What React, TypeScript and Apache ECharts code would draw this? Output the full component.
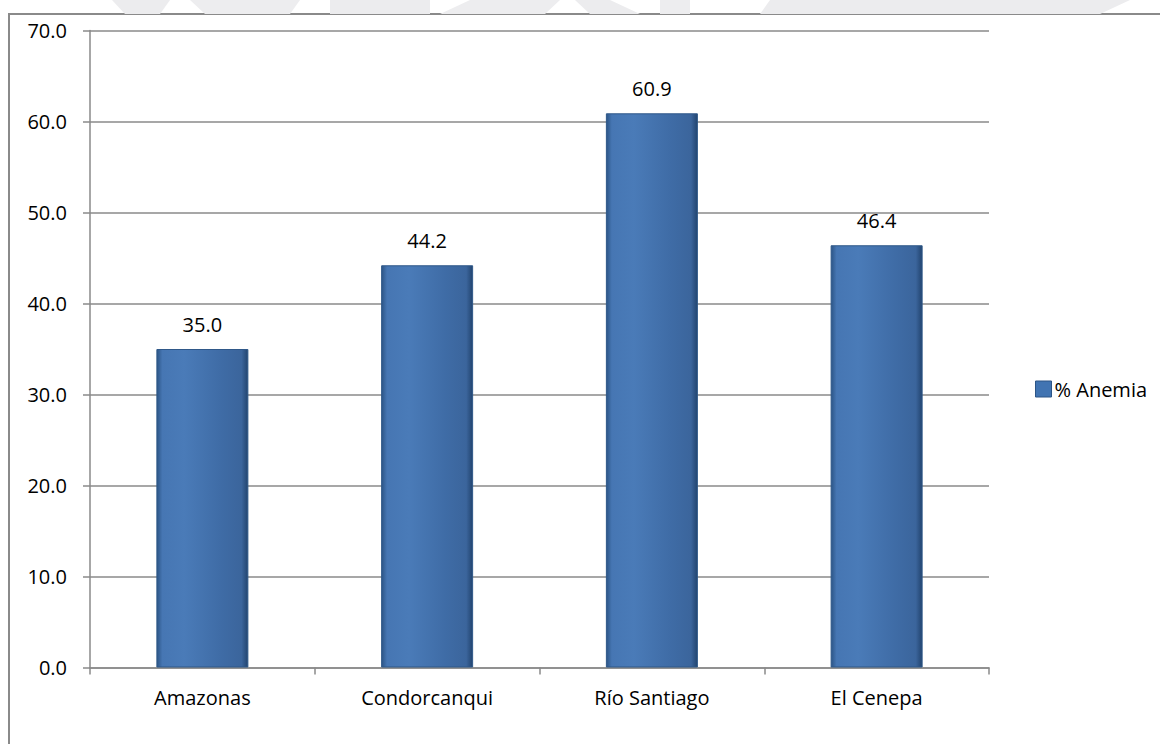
import React, { useEffect, useRef } from "react";
import * as echarts from "echarts";

// Anemia share by district
const categories = ["Amazonas", "Condorcanqui", "Río Santiago", "El Cenepa"];
const anemiaValues = [35.0, 44.2, 60.9, 46.4];
const seriesName = "% Anemia";
const yTicks = [0, 10, 20, 30, 40, 50, 60, 70];

const FONT = "'Open Sans', 'Noto Sans', sans-serif";
const AXIS_GRAY = "#8a8a8a";

const barGradient = new echarts.graphic.LinearGradient(0, 0, 1, 0, [
  { offset: 0, color: "#2c5586" },
  { offset: 0.06, color: "#4676b3" },
  { offset: 0.3, color: "#4a7bb8" },
  { offset: 0.7, color: "#3f6ca6" },
  { offset: 0.93, color: "#3b659c" },
  { offset: 1, color: "#22446f" },
]);

export default function App() {
  const ref = useRef<HTMLDivElement>(null);

  useEffect(() => {
    document.body.style.margin = "0";
    if (!ref.current) return;
    const chart = echarts.init(ref.current, null, { renderer: "svg" });
    chart.setOption({
      animation: false,
      backgroundColor: "#ffffff",
      textStyle: { fontFamily: FONT },
      graphic: [
        // faint watermark strip above the chart frame
        {
          type: "group",
          silent: true,
          z: -10,
          children: [
            { type: "polygon", shape: { points: [[112, 0], [170, 0], [160, 14], [125, 14]] }, style: { fill: "#ececee" } },
            { type: "polygon", shape: { points: [[190, 0], [300, 0], [290, 14], [205, 14]] }, style: { fill: "#ededef" } },
            { type: "polygon", shape: { points: [[330, 0], [430, 0], [430, 14], [330, 14]] }, style: { fill: "#ececee" } },
            { type: "polygon", shape: { points: [[470, 0], [560, 0], [545, 14], [440, 14]] }, style: { fill: "#ededef" } },
            { type: "polygon", shape: { points: [[575, 0], [610, 0], [640, 14], [590, 14]] }, style: { fill: "#ececee" } },
            { type: "polygon", shape: { points: [[660, 0], [690, 0], [690, 14], [660, 14]] }, style: { fill: "#ededef" } },
            { type: "polygon", shape: { points: [[770, 0], [1130, 0], [1100, 14], [760, 14]] }, style: { fill: "#ececee" } },
          ],
        },
        // chart frame
        {
          type: "rect",
          silent: true,
          z: -5,
          shape: { x: 9, y: 14, width: 1200, height: 800 },
          style: { fill: "#ffffff", stroke: AXIS_GRAY, lineWidth: 2 },
        },
      ],
      legend: {
        data: [seriesName],
        left: 1030,
        top: 374,
        orient: "vertical",
        itemWidth: 16,
        itemHeight: 16,
        itemGap: 4,
        icon: "rect",
        textStyle: { fontFamily: FONT, fontSize: 20, color: "#000", padding: [0, 0, 0, -2] },
        itemStyle: { color: "#4174b2", borderColor: "#2c5586", borderWidth: 1 },
      },
      grid: {
        left: 90,
        top: 30.5,
        right: 171,
        bottom: 76.5,
        containLabel: false,
      },
      xAxis: {
        type: "category",
        data: categories,
        axisLine: { show: true, lineStyle: { color: AXIS_GRAY, width: 1.5 } },
        axisTick: { show: true, length: 7, alignWithLabel: false, lineStyle: { color: AXIS_GRAY, width: 1.5 } },
        axisLabel: { fontFamily: FONT, fontSize: 20, color: "#000", margin: 20 },
      },
      yAxis: {
        type: "value",
        min: yTicks[0],
        max: yTicks[yTicks.length - 1],
        interval: 10,
        axisLine: { show: true, lineStyle: { color: AXIS_GRAY, width: 1.5 } },
        axisTick: { show: true, length: 7, lineStyle: { color: AXIS_GRAY, width: 1.5 } },
        splitLine: { show: true, lineStyle: { color: AXIS_GRAY, width: 1.5 } },
        axisLabel: {
          fontFamily: FONT,
          fontSize: 20,
          color: "#000",
          margin: 23,
          formatter: (v: number) => v.toFixed(1),
        },
      },
      series: [
        {
          name: seriesName,
          type: "bar",
          data: anemiaValues,
          barWidth: 92,
          itemStyle: {
            color: barGradient,
            borderColor: "#2f5889",
            borderWidth: 1,
          },
          label: {
            show: true,
            position: "top",
            distance: 15,
            fontFamily: FONT,
            fontSize: 20,
            color: "#000",
            formatter: (p: any) => Number(p.value).toFixed(1),
          },
        },
      ],
    });
    return () => chart.dispose();
  }, []);

  return <div ref={ref} style={{ width: 1160, height: 744 }} />;
}
